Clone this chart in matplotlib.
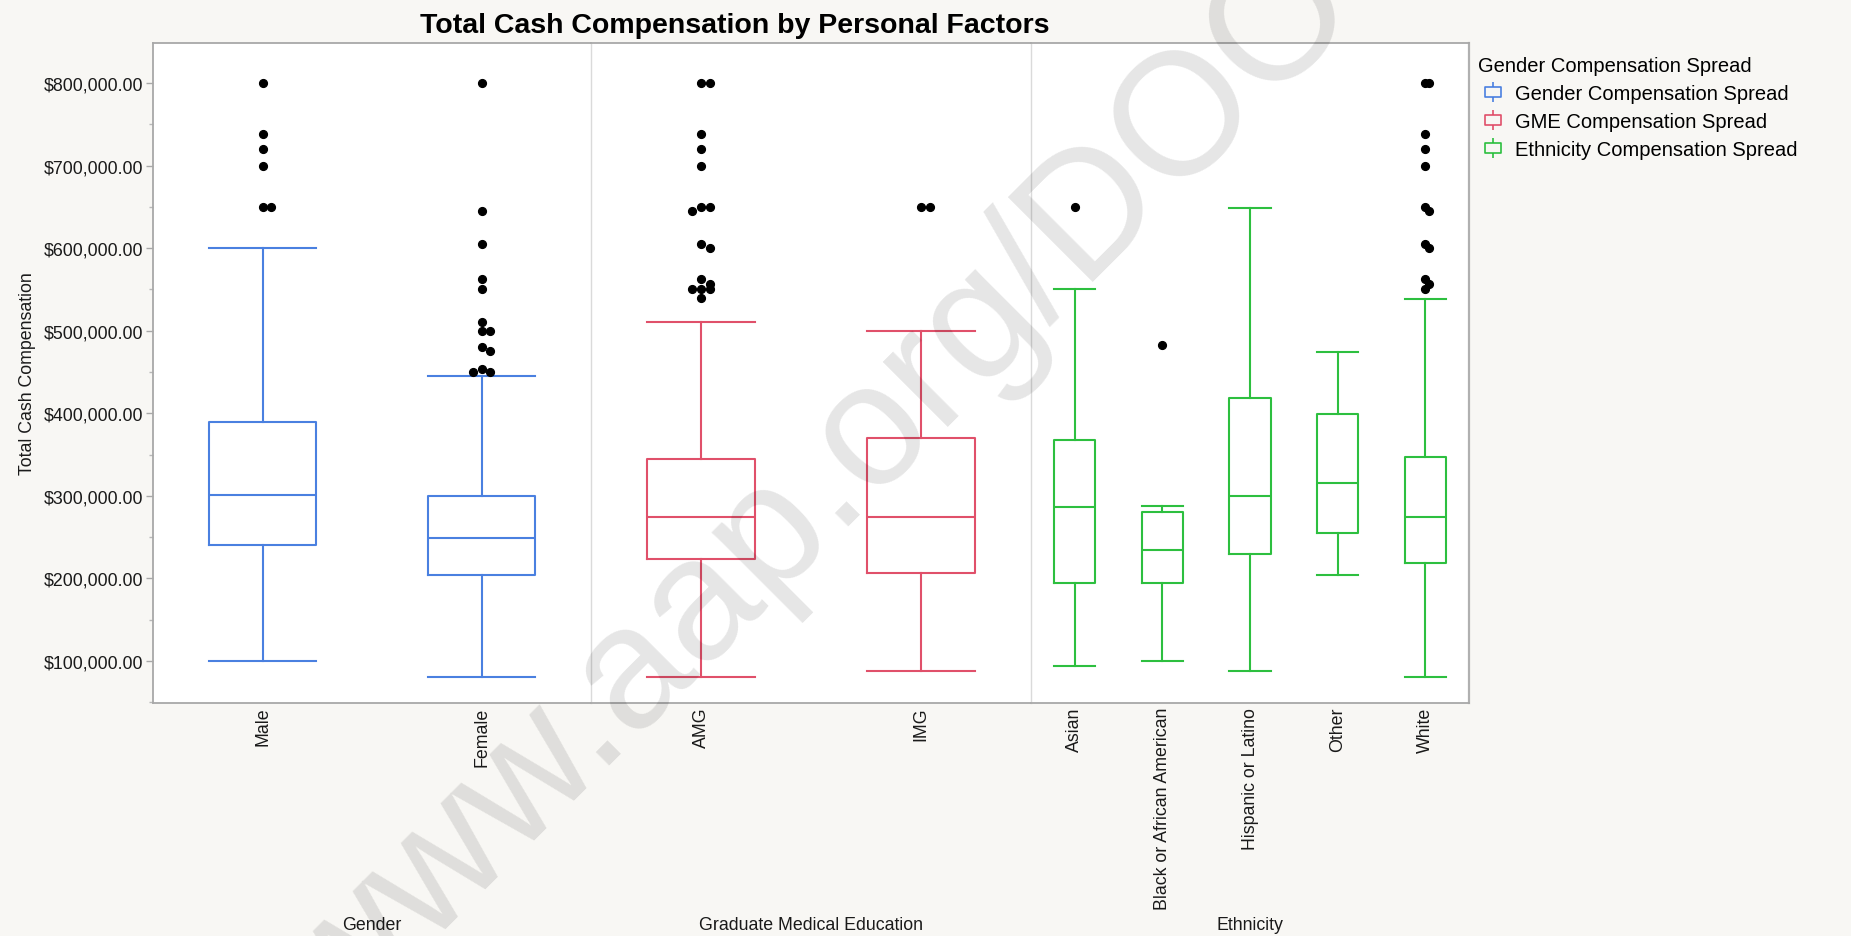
import matplotlib
matplotlib.use("Agg")
import matplotlib.pyplot as plt
from matplotlib.lines import Line2D
from matplotlib.path import Path
from matplotlib.ticker import FuncFormatter, MultipleLocator

plt.rcParams['font.family'] = ['Liberation Sans', 'DejaVu Sans']

# =========================================================
# DATA
# =========================================================

gender_labels = ["Male", "Female"]
gender_low = [100000, 80000]
gender_q1 = [241000, 204000]
gender_median = [301000, 249000]
gender_q3 = [389000, 300000]
gender_high = [600000, 445000]
gender_outliers = [
    [800000, 738000, 720000, 700000, 650000, 650000],
    [800000, 645000, 605000, 562000, 550000, 510000, 500000, 500000,
     480000, 475000, 453000, 450000, 450000],
]

gme_labels = ["AMG", "IMG"]
gme_low = [80000, 88000]
gme_q1 = [223000, 206000]
gme_median = [274000, 274000]
gme_q3 = [344000, 370000]
gme_high = [510000, 500000]
gme_outliers = [
    [800000, 800000, 738000, 720000, 700000, 650000, 650000, 645000,
     605000, 600000, 562000, 557000, 550000, 550000, 550000, 540000],
    [650000, 650000],
]

eth_labels = ["Asian", "Black or African American", "Hispanic or Latino",
              "Other", "White"]
eth_low = [94000, 100000, 88000, 204000, 80000]
eth_q1 = [194000, 194000, 230000, 255000, 219000]
eth_median = [286000, 234000, 300000, 315000, 274000]
eth_q3 = [368000, 280000, 418000, 399000, 347000]
eth_high = [550000, 288000, 649000, 474000, 538000]
eth_outliers = [
    [650000],
    [483000],
    [],
    [],
    [800000, 800000, 738000, 720000, 700000, 650000, 645000, 605000,
     600000, 562000, 557000, 550000],
]

group_names = ["Gender", "Graduate Medical Education", "Ethnicity"]
series_names = ["Gender Compensation Spread", "GME Compensation Spread",
                "Ethnicity Compensation Spread"]
colors = ["#4a80e0", "#e0506a", "#2dbf3f"]

# =========================================================
# HELPERS
# =========================================================

def make_stats(labels, low, q1, med, q3, high):
    return [dict(label=l, whislo=a, q1=b, med=c, q3=d, whishi=e, fliers=[])
            for l, a, b, c, d, e in zip(labels, low, q1, med, q3, high)]


def jitter(vals, step=0.04):
    # spread repeated values a little sideways, like JMP does
    offs = []
    for i, v in enumerate(vals):
        n = sum(1 for w in vals[:i] if abs(w - v) < 6000)
        sign = 1 if n % 2 else -1
        offs.append(0 if n == 0 else sign * step * ((n + 1) // 2))
    return offs


def box_glyph():
    verts = [(-0.42, -0.24), (0.42, -0.24), (0.42, 0.24), (-0.42, 0.24), (-0.42, -0.24),
             (0, 0.24), (0, 0.5), (0, -0.24), (0, -0.5)]
    codes = [Path.MOVETO, Path.LINETO, Path.LINETO, Path.LINETO, Path.CLOSEPOLY,
             Path.MOVETO, Path.LINETO, Path.MOVETO, Path.LINETO]
    return Path(verts, codes)

# =========================================================
# FIGURE
# =========================================================

W, H = 1851, 937
fig = plt.figure(figsize=(W / 100, H / 100), dpi=100)
fig.patch.set_facecolor("#f8f7f4")

panels = [
    (gender_labels, make_stats(gender_labels, gender_low, gender_q1, gender_median, gender_q3, gender_high), gender_outliers, 0.49),
    (gme_labels, make_stats(gme_labels, gme_low, gme_q1, gme_median, gme_q3, gme_high), gme_outliers, 0.49),
    (eth_labels, make_stats(eth_labels, eth_low, eth_q1, eth_median, eth_q3, eth_high), eth_outliers, 0.47),
]

edges = [153, 591, 1031, 1469]
top_px, bot_px = 43.5, 703.5
axes = []
for i, (labels, stats, outliers, width) in enumerate(panels):
    ax = fig.add_axes([edges[i] / W, 1 - bot_px / H,
                       (edges[i + 1] - edges[i]) / W, (bot_px - top_px) / H],
                      sharey=axes[0] if axes else None)
    axes.append(ax)
    col = colors[i]
    pos = [k + 0.5 for k in range(len(labels))]
    lp = dict(color=col, linewidth=1.5)
    ax.bxp(stats, positions=pos, widths=width, capwidths=width,
           showfliers=False, boxprops=lp, whiskerprops=lp, capprops=lp,
           medianprops=lp, manage_ticks=False)
    for p, vals in zip(pos, outliers):
        xs = [p + o for o in jitter(vals)]
        ax.plot(xs, vals, "o", color="black", markersize=5.6, linestyle="none",
                zorder=5)

    ax.set_xlim(0, len(labels))
    ax.set_xticks(pos)
    ax.set_xticklabels(labels, rotation=90, fontsize=12.8, color="#1a1a1a")
    ax.tick_params(axis="x", length=0, pad=3)
    ax.set_facecolor("white")

    for s in ["top", "bottom"]:
        ax.spines[s].set_color("#a8a8a8")
        ax.spines[s].set_linewidth(1.3)
    ax.spines["right"].set_visible(i == 2)
    ax.spines["right"].set_color("#b0b0b0")
    ax.spines["right"].set_linewidth(1.6)
    if i == 0:
        ax.spines["left"].set_color("#a8a8a8")
        ax.spines["left"].set_linewidth(1.3)
    else:
        ax.spines["left"].set_color("#dadada")
        ax.spines["left"].set_linewidth(1.0)
        ax.tick_params(axis="y", which="both", left=False, labelleft=False)

    fig.text((edges[i] + edges[i + 1]) / 2 / W, 1 - 926 / H, group_names[i],
             ha="center", va="center", fontsize=12.8, color="#1a1a1a")

ax0 = axes[0]
ax0.set_ylim(49700, 849000)
ax0.yaxis.set_major_locator(MultipleLocator(100000))
ax0.yaxis.set_minor_locator(MultipleLocator(50000))
ax0.yaxis.set_major_formatter(FuncFormatter(lambda v, _: f"${v:,.2f}"))
ax0.tick_params(axis="y", which="major", length=5, width=1, color="#a8a8a8",
                labelsize=12.8, labelcolor="#1a1a1a", pad=2)
ax0.tick_params(axis="y", which="minor", length=3, width=1, color="#b8b8b8")
ax0.set_yticks(list(range(100000, 800001, 100000)))

fig.text(27 / W, 1 - 373.5 / H, "Total Cash Compensation", rotation=90,
         ha="center", va="center", fontsize=12.8, color="#1a1a1a")

fig.text(735 / W, 1 - 26 / H, "Total Cash Compensation by Personal Factors",
         ha="center", va="center", fontsize=20.5, fontweight="bold")

# legend
glyph = box_glyph()
handles = [Line2D([], [], linestyle="none", marker=glyph, markersize=14,
                  markerfacecolor="none", markeredgecolor=c, markeredgewidth=1.2)
           for c in colors]
fig.legend(handles, series_names, title="Gender Compensation Spread",
           loc="upper left", bbox_to_anchor=(1478 / W, 1 - 57 / H),
           frameon=False, fontsize=14.5, title_fontsize=14.5,
           alignment="left", handlelength=1.5, handletextpad=0.32,
           labelspacing=0.45, borderpad=0, borderaxespad=0)

# watermark
fig.text(339.5 / W, 1 - 1035.5 / H, "www.aap.org/DOO", rotation=45,
         rotation_mode="anchor", ha="left", va="baseline", fontsize=125,
         color="black", alpha=0.1, zorder=10)

fig.savefig("out.png", dpi=100, facecolor=fig.get_facecolor())
